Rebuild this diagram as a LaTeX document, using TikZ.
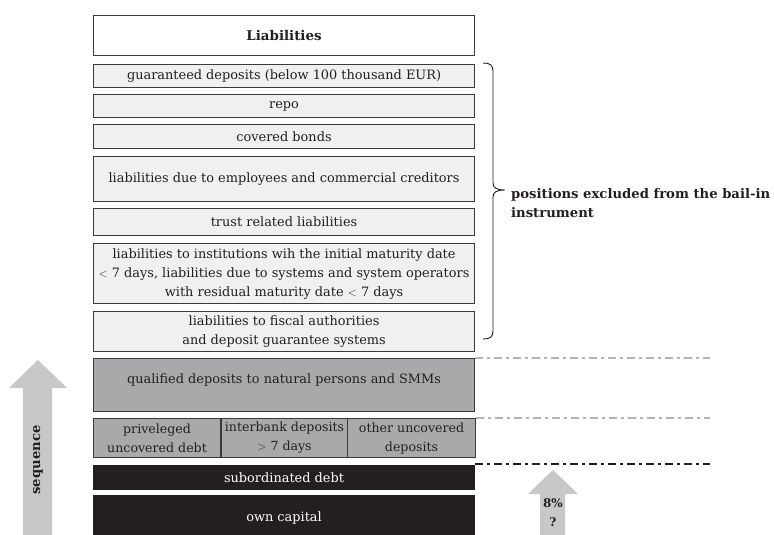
\documentclass[tikz,border=0pt]{standalone}
\usepackage{fontspec}
\setmainfont{DejaVu Serif}
\definecolor{ink}{HTML}{231F20}
\definecolor{frame}{HTML}{3A3A3A}
\definecolor{pale}{HTML}{F0F0F0}
\definecolor{midgray}{HTML}{A9A9AB}
\definecolor{arrowgray}{HTML}{C8C8C8}
\definecolor{dashgray}{HTML}{B4B4B4}
\begin{document}
\begin{tikzpicture}[x=1pt,y=-1pt,
  txt/.style={font=\fontsize{12.9}{19}\selectfont, text=ink, align=center, inner sep=0pt},
  layer/.style={txt, draw=frame, line width=1.1pt, anchor=north west, minimum width=381pt},
  light/.style={layer, fill=pale},
  grey/.style={layer, fill=midgray},
  dark/.style={layer, fill=ink, draw=ink, text=white},
  cell/.style={grey, minimum width=127pt, font=\fontsize{12.6}{19}\selectfont},
  tierline/.style={line width=1.3pt, dash pattern=on 8pt off 4pt on 3pt off 4pt},
  bigarrow/.style={fill=arrowgray},
  boldlbl/.style={font=\fontsize{13.2}{19}\selectfont\bfseries, text=ink, inner sep=0pt}
]
\useasboundingbox (0,0) rectangle (774,535);

% balance-sheet layers, top to bottom
\node[layer, fill=white, minimum height=40pt, font=\fontsize{13.4}{16}\selectfont\bfseries] (liab) at (93,15) {Liabilities};
\node[light, minimum height=23pt] (guar) at (93,64) {guaranteed deposits (below 100 thousand EUR)};
\node[light, minimum height=23pt] (repo) at (93,94) {repo};
\node[light, minimum height=24pt] (cov) at (93,124) {covered bonds};
\node[light, minimum height=45pt] (empl) at (93,156) {liabilities due to employees and commercial creditors};
\node[light, minimum height=27pt] (trust) at (93,208) {trust related liabilities};
\node[light, minimum height=60pt] (inst) at (93,243) {liabilities to institutions wih the initial maturity date\\$<$ 7 days, liabilities due to systems and system operators\\with residual maturity date $<$ 7 days};
\node[light, minimum height=40pt] (fisc) at (93,311) {liabilities to fiscal authorities\\and deposit guarantee systems};
\node[grey, minimum height=53pt, text depth=12pt] (qual) at (93,358) {qualified deposits to natural persons and SMMs};
\node[cell, minimum height=39pt] (priv) at (93,418) {priveleged\\uncovered debt};
\node[cell, minimum height=39pt, minimum width=126pt] (inter) at (221,418) {interbank deposits\\$>$ 7 days};
\node[cell, minimum height=39pt, minimum width=128pt] (other) at (347,418) {other uncovered\\deposits};
\node[dark, minimum height=24pt] (sub) at (93,465) {subordinated debt};
\node[dark, minimum height=45pt] (own) at (93,495) {own capital};

% tier boundaries
\coordinate (e1) at (710,358);
\coordinate (e2) at (710,418);
\coordinate (e3) at (710,464);
\draw[tierline, draw=dashgray] (qual.north east) -- (e1);
\draw[tierline, draw=dashgray] (other.north east) -- (e2);
\draw[tierline, draw=ink] (sub.north east) ++(0,-1) -- (e3);

% bracket over the excluded positions
\draw[ink, line width=0.9pt]
  (483,63) .. controls (490,63) and (493,65) .. (493,71)
  -- (493,183) .. controls (493,188) and (497,190) .. (505,190)
  .. controls (497,190) and (493,192) .. (493,197)
  -- (493,331) .. controls (493,337) and (490,339) .. (483,339);
\node[boldlbl, anchor=west, align=left] (excl) at (511,203)
  {positions excluded from the bail-in\\instrument};

% sequence arrow
\fill[bigarrow] (23,535) -- (23,388) -- (9,388) -- (38,360) -- (67,388) -- (52,388) -- (52,535) -- cycle;
\node[boldlbl, rotate=90] (seq) at (38,460) {sequence};

% 8% arrow
\fill[bigarrow] (540,535) -- (540,494) -- (528,494) -- (553,470) -- (578,494) -- (565,494) -- (565,535) -- cycle;
\node[boldlbl, font=\fontsize{12}{19}\selectfont\bfseries, align=center] (pct) at (553,513) {8\%\\?};
\end{tikzpicture}
\end{document}
